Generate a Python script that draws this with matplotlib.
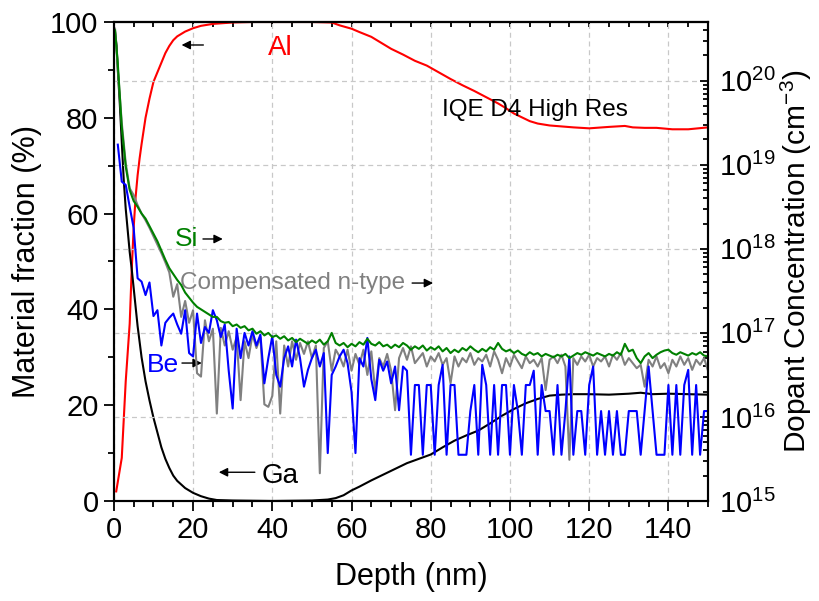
import numpy as np
import matplotlib
matplotlib.use("Agg")
import matplotlib.pyplot as plt
from matplotlib.ticker import MultipleLocator, LogLocator, NullFormatter

plt.rcParams['font.family'] = ['Liberation Sans', 'DejaVu Sans']
plt.rcParams['mathtext.fontset'] = 'custom'
plt.rcParams['mathtext.rm'] = 'Liberation Sans'
plt.rcParams['mathtext.it'] = 'Liberation Sans:italic'
plt.rcParams['mathtext.default'] = 'regular'

# ---- material fraction (left axis, %) ----
al_depth = [0.6, 0.8, 1.5, 2, 2.5, 3, 3.5, 4, 4.5, 5, 5.5, 6, 6.5, 7, 8, 9, 10, 11, 12, 13,
            14, 15, 16, 18, 20, 22, 25, 30, 35, 40, 45, 50, 55, 57, 60, 62, 65, 67, 70, 73,
            76, 79, 82, 85, 88, 91, 94, 97, 99, 101, 103, 105, 107, 110, 113, 116, 120, 125,
            129, 131, 134, 137, 141, 145, 150]
al_frac = [2.0, 3.0, 6.5, 9.0, 17, 25, 31, 37, 48, 57, 63.5, 68, 71.5, 74.5, 80, 84, 87.5, 89.5, 91.5, 93.5,
           95, 96.2, 97, 98, 98.7, 99.2, 99.6, 99.9, 100, 100, 100, 100, 99.9, 99.3, 98.6, 97.9, 96.9, 95.9, 94.4, 93.2,
           91.9, 90.9, 89.5, 88.1, 86.8, 85.6, 84.3, 83.0, 82.0, 80.9, 80.1, 79.3, 78.8, 78.4, 78.2, 78.0, 77.8, 78.1,
           78.3, 78.0, 77.9, 77.9, 77.6, 77.6, 78.0]

ga_depth = [0.3, 0.7, 1, 1.5, 2, 2.5, 3, 3.5, 4, 4.5, 5, 5.5, 6, 7, 8, 9, 10, 11, 12, 13,
            14, 15, 16, 18, 20, 22, 24, 26, 30, 40, 50, 54, 56, 58, 60, 62, 65, 68, 71, 74,
            77, 80, 83, 86, 89, 92, 95, 98, 101, 104, 107, 110, 113, 116, 120, 125, 130, 133,
            136, 140, 145, 150]
ga_frac = [98.0, 95, 90, 83, 75, 67, 61, 56.5, 52, 48.5, 44.5, 40.5, 36.5, 30, 25, 21, 17.4, 14.3, 11.2, 8.8,
           6.9, 5.3, 4.2, 2.7, 1.7, 1.0, 0.5, 0.2, 0.1, 0.0, 0.1, 0.3, 0.6, 1.2, 2.2, 3.0, 4.3, 5.5, 6.7, 7.9,
           8.8, 9.7, 11.2, 12.6, 13.7, 14.7, 16.2, 17.8, 19.2, 20.4, 21.3, 22.0, 22.2, 22.3, 22.3, 22.2, 22.4, 22.6,
           22.3, 22.4, 22.3, 22.2]

# ---- dopant concentration (right axis), log10(cm^-3) on a 0.3, 1, 2 ... 150 nm grid ----
dop_depth = [0.3] + list(range(1, 151))

si_log = [20.60,
          20.20, 19.45, 18.98, 18.70, 18.57, 18.50, 18.42, 18.36, 18.27, 18.18,
          18.09, 17.98, 17.87, 17.77, 17.70, 17.63, 17.57, 17.48, 17.42, 17.36,
          17.31, 17.28, 17.25, 17.22, 17.19, 17.19, 17.14, 17.12, 17.13, 17.08,
          17.10, 17.06, 17.08, 17.03, 17.05, 16.99, 17.02, 16.97, 17.00, 16.95,
          16.97, 16.93, 16.96, 16.91, 16.94, 16.89, 16.93, 16.90, 16.87, 16.91,
          16.88, 16.92, 16.86, 16.90, 17.00, 16.88, 16.85, 16.88, 16.83, 16.87,
          16.84, 16.89, 16.86, 16.93, 16.87, 16.85, 16.89, 16.84, 16.86, 16.82,
          16.86, 16.83, 16.88, 16.85, 16.80, 16.84, 16.81, 16.85, 16.79, 16.83,
          16.80, 16.84, 16.78, 16.82, 16.76, 16.80, 16.77, 16.82, 16.79, 16.84,
          16.80, 16.77, 16.81, 16.78, 16.83, 16.80, 16.88, 16.81, 16.78, 16.80,
          16.76, 16.79, 16.75, 16.73, 16.77, 16.74, 16.76, 16.72, 16.75, 16.73,
          16.71, 16.74, 16.72, 16.75, 16.70, 16.73, 16.76, 16.74, 16.77, 16.75,
          16.73, 16.76, 16.74, 16.72, 16.75, 16.73, 16.77, 16.74, 16.87, 16.78,
          16.80, 16.70, 16.64, 16.72, 16.76, 16.70, 16.74, 16.77, 16.79, 16.80,
          16.76, 16.74, 16.77, 16.75, 16.73, 16.76, 16.74, 16.77, 16.73, 16.72]

comp_log = [20.62,
            20.15, 19.50, 19.02, 18.72, 18.64, 18.52, 18.42, 18.34, 18.25, 18.15,
            18.05, 17.95, 17.84, 17.72, 17.43, 17.58, 17.19, 17.38, 17.12, 17.27,
            16.52, 16.48, 17.15, 16.90, 17.05, 16.04, 17.06, 16.85, 17.02, 16.80,
            16.95, 16.20, 16.90, 16.70, 16.98, 16.82, 16.95, 16.15, 16.12, 16.25,
            16.90, 16.04, 16.85, 16.60, 16.90, 16.68, 16.88, 16.75, 16.90, 16.70,
            16.85, 15.33, 16.82, 16.90, 16.55, 16.80, 16.72, 16.60, 16.80, 16.55,
            16.75, 16.62, 16.80, 16.50, 16.78, 16.30, 16.70, 16.60, 16.75, 16.55,
            16.08, 16.70, 16.82, 16.68, 16.84, 16.64, 16.70, 16.76, 16.60, 16.72,
            16.66, 16.76, 16.62, 16.70, 16.40, 16.72, 16.60, 16.70, 16.65, 16.76,
            16.62, 16.70, 16.66, 16.74, 16.60, 16.78, 16.68, 16.52, 16.70, 16.60,
            16.74, 16.66, 16.58, 16.72, 16.64, 16.68, 16.60, 16.70, 16.32, 16.68,
            16.72, 16.64, 16.74, 16.60, 15.49, 16.70, 16.62, 16.72, 16.66, 16.74,
            16.60, 16.70, 16.66, 16.72, 16.60, 16.74, 16.68, 16.76, 16.62, 16.70,
            16.64, 16.58, 16.62, 16.36, 16.68, 16.60, 16.72, 16.58, 16.64, 16.52,
            16.68, 16.60, 16.72, 16.62, 16.70, 16.56, 16.68, 16.62, 16.70, 16.55]

be_log = [np.nan,
          19.24, 18.80, 18.76, 18.50, 18.25, 17.65, 17.61, 17.45, 17.60, 17.20,
          17.27, 16.85, 17.12, 17.18, 17.23, 17.10, 16.99, 17.27, 16.76, 16.72,
          17.23, 16.88, 17.07, 17.00, 17.27, 17.15, 16.95, 17.10, 16.55, 16.10,
          17.05, 16.70, 17.00, 16.85, 17.02, 16.85, 16.98, 16.40, 16.70, 16.96,
          16.50, 16.36, 16.70, 16.84, 16.60, 16.92, 16.70, 16.36, 16.56, 16.70,
          16.80, 16.60, 16.76, 15.57, 16.50, 16.60, 16.72, 16.80, 16.64, 16.30,
          15.57, 16.70, 16.60, 16.94, 16.45, 16.20, 16.68, 16.55, 16.66, 16.40,
          16.60, 16.08, 16.60, 16.55, 15.55, 16.38, 16.38, 15.55, 16.38, 16.38,
          15.55, 16.38, 16.62, 15.55, 16.38, 16.38, 15.55, 15.55, 15.55, 16.07,
          16.38, 15.55, 16.62, 16.38, 15.55, 16.38, 15.55, 16.38, 16.38, 15.55,
          16.38, 16.07, 15.55, 16.38, 16.38, 16.55, 15.55, 16.38, 16.07, 16.07,
          15.55, 16.38, 15.55, 16.07, 16.72, 15.55, 16.07, 16.07, 15.55, 16.38,
          16.60, 15.55, 16.07, 15.55, 16.07, 15.55, 16.07, 15.55, 15.55, 16.07,
          16.07, 16.07, 15.55, 16.07, 16.60, 16.07, 15.55, 15.55, 15.55, 16.38,
          15.55, 16.38, 15.55, 16.38, 16.56, 15.55, 16.38, 15.55, 16.07, 16.07]

x_ticks = [0, 20, 40, 60, 80, 100, 120, 140]

fig = plt.figure(figsize=(8.19, 6.01), dpi=100)
ax = fig.add_axes([0.139, 0.1664, 0.7255, 0.797])
ax2 = ax.twinx()

ax.plot(al_depth, al_frac, color='#ff0000', lw=1.5)
ax.plot(ga_depth, ga_frac, color='black', lw=1.5)

ax2.plot(dop_depth, 10 ** np.array(comp_log), color='#808080', lw=1.5)
ax2.plot(dop_depth, 10 ** np.array(be_log), color='#0000ff', lw=1.5)
ax2.plot(dop_depth, 10 ** np.array(si_log), color='#008000', lw=1.5)

ax.set_xlim(0, 150)
ax.set_ylim(0, 100)
ax2.set_yscale('log')
ax2.set_ylim(1e15, 5e20)

grid_kw = dict(color='#c8c8c8', lw=0.9, linestyle=(0, (4, 3)))
ax.grid(axis='x', **grid_kw)
ax2.grid(axis='y', which='major', **grid_kw)
ax2.set_axisbelow(True)

ax.set_xticks(x_ticks)
ax.xaxis.set_minor_locator(MultipleLocator(5))
ax.yaxis.set_major_locator(MultipleLocator(20))
ax.yaxis.set_minor_locator(MultipleLocator(10))
ax.tick_params(which='both', direction='out', width=1.3, labelsize=21, pad=4)
ax.tick_params(which='major', length=7)
ax.tick_params(which='minor', length=4)

top = ax.secondary_xaxis('top')
top.set_xticks(x_ticks)
top.xaxis.set_minor_locator(MultipleLocator(5))
top.tick_params(which='both', direction='in', length=3.5, width=1.3, labeltop=False)

ax2.yaxis.set_major_locator(LogLocator(base=10, numticks=12))
ax2.yaxis.set_minor_locator(LogLocator(base=10, subs=np.arange(2, 10), numticks=12))
ax2.yaxis.set_minor_formatter(NullFormatter())
ax2.tick_params(which='both', direction='in', width=1.3, labelsize=21, pad=8)
ax2.tick_params(which='major', length=6)
ax2.tick_params(which='minor', length=3.5)

for a in (ax, ax2, top):
    for s in a.spines.values():
        s.set_linewidth(1.5)

ax.set_xlabel('Depth (nm)', fontsize=22, labelpad=13)
ax.set_ylabel('Material fraction (%)', fontsize=22, labelpad=6)
ax2.set_ylabel('Dopant Concentration (cm$^{-3}$)', fontsize=21.5, labelpad=2)

# labels and arrows
arrow_kw = dict(arrowstyle='-|>', color='black', lw=1.0, mutation_scale=13, shrinkA=0, shrinkB=0)
ax.text(39.0, 93.1, 'Al', color='#ff0000', fontsize=20)
ax.annotate('', xy=(17.1, 95.2), xytext=(22.6, 95.2), arrowprops=arrow_kw)
ax.text(82.8, 80.4, 'IQE D4 High Res', color='black', fontsize=17.5)
ax.text(15.4, 53.2, 'Si', color='#008000', fontsize=19)
ax.annotate('', xy=(27.5, 54.7), xytext=(22.5, 54.7), arrowprops=arrow_kw)
ax.text(16.7, 44.3, 'Compensated n-type', color='#808080', fontsize=17.5)
ax.annotate('', xy=(80.6, 45.5), xytext=(75.3, 45.5), arrowprops=arrow_kw)
ax.text(8.3, 26.9, 'Be', color='#0000ff', fontsize=19)
ax.annotate('', xy=(22.2, 28.8), xytext=(17.2, 28.8), arrowprops=arrow_kw)
ax.text(37.3, 3.8, 'Ga', color='black', fontsize=20)
ax.annotate('', xy=(26.5, 6.0), xytext=(35.6, 6.0), arrowprops=arrow_kw)

fig.savefig('out.png', dpi=100)
